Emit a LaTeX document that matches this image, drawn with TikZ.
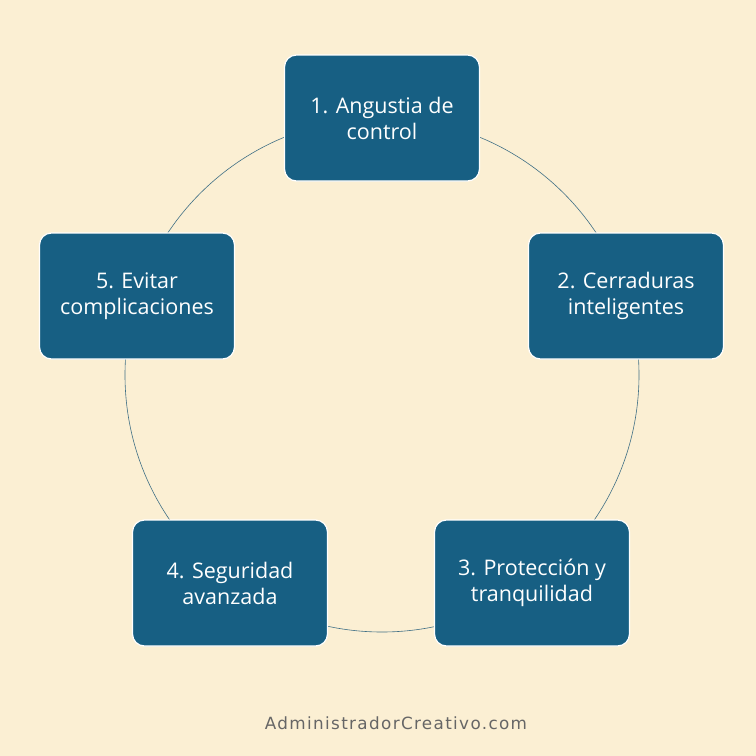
\documentclass[tikz,border=0pt]{standalone}
\usepackage{fontspec}
\setmainfont{Open Sans}
\newfontfamily\foot[LetterSpace=8]{DejaVu Sans}
\definecolor{bg}{HTML}{FBEFD3}
\definecolor{boxc}{HTML}{175F83}
\definecolor{ring}{HTML}{3F6F85}
\begin{document}
\begin{tikzpicture}[x=1pt,y=-1pt,
  stepbox/.style={draw=white,line width=1.2pt,fill=boxc,rounded corners=12pt,minimum width=195pt,minimum height=126pt,text=white,align=center,font=\fontsize{21.5}{26}\selectfont,inner sep=0pt}]
\fill[bg] (0,0) rectangle (756,756);
\useasboundingbox (0,0) rectangle (756,756);
\coordinate (c) at (382,375);
\draw[ring,line width=0.6pt] (c) circle[radius=257];
\node[stepbox] (n1) at (382,118) {1. Angustia de\\control};
\node[stepbox] (n2) at (626,296) {2. Cerraduras\\inteligentes};
\node[stepbox] (n3) at (532,583) {3. Protección y\\tranquilidad};
\node[stepbox] (n4) at (230,583) {4. Seguridad\\avanzada};
\node[stepbox] (n5) at (137,296) {5. Evitar\\complicaciones};
\node[text=black!60,font=\foot\fontsize{16.8}{20}\selectfont] (ft) at (396,723) {AdministradorCreativo.com};
\end{tikzpicture}
\end{document}
